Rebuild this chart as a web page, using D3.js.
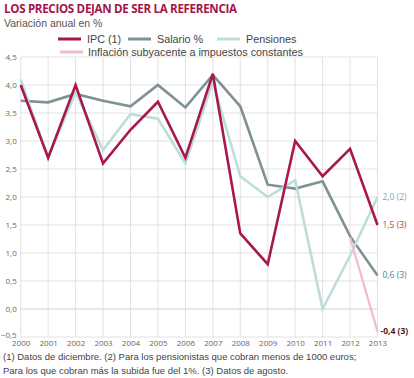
<!DOCTYPE html>
<html><head><meta charset="utf-8">
<script src="https://cdn.jsdelivr.net/npm/d3@7"></script>
<style>body{margin:0;background:#fff;}svg{display:block;}</style>
</head><body><svg id="c" width="414" height="378"></svg>
<script>
const years = [2000,2001,2002,2003,2004,2005,2006,2007,2008,2009,2010,2011,2012,2013];
const ipc = [4.0,2.7,4.0,2.6,3.2,3.7,2.7,4.2,1.35,0.8,3.0,2.37,2.86,1.5];
const salario = [3.72,3.69,3.84,3.72,3.62,4.0,3.6,4.18,3.62,2.22,2.15,2.28,1.3,0.6];
const pensiones = [4.1,2.7,3.87,2.84,3.48,3.4,2.6,4.05,2.37,2.0,2.3,0.0,0.95,2.0];
const subYears = [2012,2013];
const subyacente = [1.28,-0.4];
const yTicks = [-0.5,0,0.5,1,1.5,2,2.5,3,3.5,4,4.5];
const endLabels = [
  {text:"2,0 (2)", value:2.0, color:"#7fa3ad"},
  {text:"1,5 (3)", value:1.5, color:"#b5453f"},
  {text:"0,6 (3)", value:0.6, color:"#4f7f97"},
  {text:"-0,4 (3)", value:-0.4, color:"#4a1c1c"}
];
const legendItems = [
  {name:"IPC (1)", color:"#a8174d"},
  {name:"Salario %", color:"#7f9196"},
  {name:"Pensiones", color:"#bcdedb"},
  {name:"Inflación subyacente a impuestos constantes", color:"#f2bccb"}
];

const svg = d3.select("#c");
const x = d3.scaleLinear().domain([2000,2013]).range([20.7,377.5]);
const y = d3.scaleLinear().domain([-0.5,4.5]).range([337,57]);
const fmt = d => d3.format(".1f")(d).replace(".",",");

// title
svg.append("text").attr("x",4).attr("y",13).text("LOS PRECIOS DEJAN DE SER LA REFERENCIA")
  .attr("font-family","Open Sans, sans-serif").attr("font-weight","bold").attr("font-size",11.6)
  .attr("fill","#a3154a").attr("textLength",233);
svg.append("text").attr("x",4).attr("y",27).text("Variación anual en %")
  .attr("font-family","Liberation Sans, Arial, sans-serif").attr("font-size",10.5).attr("fill","#555");

// grid
const g = svg.append("g");
g.selectAll("line.h").data(yTicks).join("line").attr("class","h")
  .attr("x1",x(2000)).attr("x2",x(2013)).attr("y1",d=>y(d)).attr("y2",d=>y(d))
  .attr("stroke",d=>d===0?"#cfcfcf":"#e2e2e2").attr("stroke-width",1);
g.selectAll("line.v").data(years).join("line").attr("class","v")
  .attr("x1",d=>x(d)).attr("x2",d=>x(d)).attr("y1",y(4.5)).attr("y2",y(-0.5))
  .attr("stroke","#e2e2e2").attr("stroke-width",1);

// y axis labels
const yAxis = d3.axisLeft(y).tickValues(yTicks).tickFormat(fmt).tickSize(0).tickPadding(3);
svg.append("g").attr("transform",`translate(${x(2000)-1},0)`).call(yAxis)
  .call(s=>s.select(".domain").remove())
  .call(s=>s.selectAll("text").attr("font-family","Open Sans, sans-serif").attr("font-size",8).attr("fill","#666"))
  .call(s=>s.selectAll(".tick").filter(d=>d===-0.5).select("text").attr("dy","0.05em"));
// x axis labels
const xAxis = d3.axisBottom(x).tickValues(years).tickFormat(d3.format("d")).tickSize(0).tickPadding(3);
svg.append("g").attr("transform",`translate(0,${y(-0.5)})`).call(xAxis)
  .call(s=>s.select(".domain").remove())
  .call(s=>s.selectAll("text").attr("font-family","Open Sans, sans-serif").attr("font-size",8).attr("fill","#666"));

const line = d3.line().x(d=>x(d[0])).y(d=>y(d[1]));
function draw(xs, vs, color, w){
  svg.append("path").datum(xs.map((v,i)=>[v,vs[i]])).attr("d",line)
    .attr("fill","none").attr("stroke",color).attr("stroke-width",w).attr("stroke-linejoin","miter");
}
draw(years, salario, legendItems[1].color, 2.6);
draw(years, pensiones, legendItems[2].color, 2.6);
draw(years, ipc, legendItems[0].color, 2.6);
draw(subYears, subyacente, legendItems[3].color, 2.2);

// end labels
svg.selectAll("text.end").data(endLabels).join("text").attr("class","end")
  .attr("x",d=>x(2013)+(d.value<0?3:5)).attr("y",d=>y(d.value)).attr("dy","0.35em")
  .text(d=>d.text).attr("font-family","Open Sans, sans-serif").attr("font-size",8.5)
  .attr("font-weight",d=>d.value<0?"bold":"normal").attr("fill",d=>d.color);

// legend
const legPos = [{x:58,y:39},{x:128,y:39},{x:217,y:39},{x:60,y:52}];
legendItems.forEach((it,i)=>{
  const p = legPos[i];
  svg.append("line").attr("x1",p.x).attr("x2",p.x+23).attr("y1",p.y).attr("y2",p.y)
    .attr("stroke",it.color).attr("stroke-width",3);
  svg.append("text").attr("x",p.x+29 + (i===3?-1:0)).attr("y",p.y).attr("dy","0.35em").text(it.name)
    .attr("font-family","Liberation Sans, Arial, sans-serif").attr("font-size",10.8).attr("fill","#444");
});

// footnote
const foot = ["(1) Datos de diciembre. (2) Para los pensionistas que cobran menos de 1000 euros;",
  "Para los que cobran más la subida fue del 1%. (3) Datos de agosto."];
svg.selectAll("text.foot").data(foot).join("text").attr("class","foot")
  .attr("x",3).attr("y",(d,i)=>360+i*13.5).text(d=>d)
  .attr("font-family","Liberation Sans, Arial, sans-serif").attr("font-size",9.5).attr("fill","#444");
</script></body></html>
